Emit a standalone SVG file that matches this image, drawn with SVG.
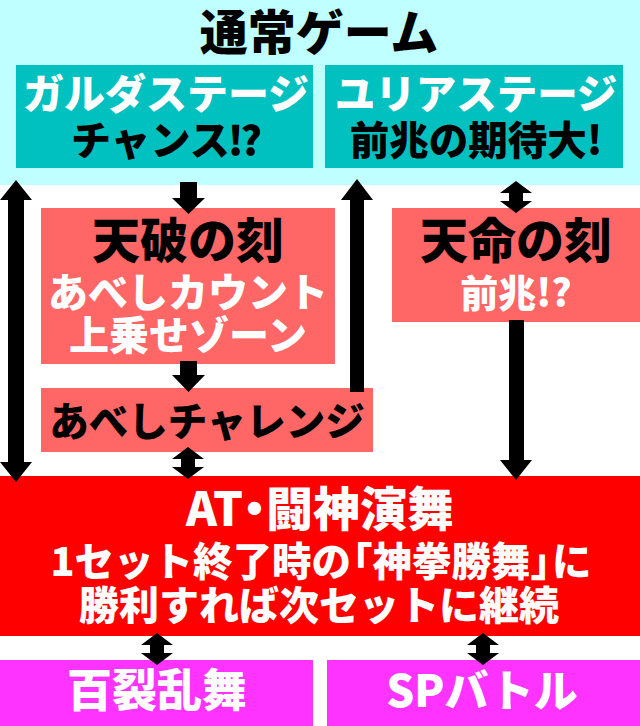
<svg xmlns="http://www.w3.org/2000/svg" width="640" height="726" viewBox="0 0 640 726">
<style>
text{font-family:"Noto Sans CJK JP","Noto Sans",sans-serif;font-weight:900;text-anchor:middle}
.k{fill:#000}.w{fill:#fff}
.arrow{fill:#000}
</style>
<rect width="640" height="726" fill="#fff"/>
<g id="normal-game"><rect x="0" y="0" width="640" height="185" fill="#c0ffff"/><text class="k" x="319" y="50" font-size="48">通常ゲーム</text></g>
<g id="garuda-stage"><rect x="16" y="65" width="297" height="103" fill="#00c0c0"/><text class="w" x="166" y="109" font-size="41">ガルダステージ</text><text class="k" x="165" y="155" font-size="40">チャンス<tspan dx="-2" letter-spacing="-3">!?</tspan></text></g>
<g id="yuria-stage"><rect x="325" y="65" width="298" height="103" fill="#00c0c0"/><text class="w" x="476" y="109" font-size="40.500">ユリアステージ</text><text class="k" x="476" y="155" font-size="39.500">前兆の期待大!</text></g>
<g id="tenpa"><rect x="41" y="208" width="294" height="156" fill="#ff6666"/><text class="k" x="188" y="258" font-size="48">天破の刻</text><text class="w" x="188" y="307" font-size="40">あべしカウント</text><text class="w" x="188" y="350" font-size="40">上乗せゾーン</text></g>
<g id="tenmei"><rect x="392" y="208" width="248" height="114" fill="#ff6666"/><text class="k" x="516" y="258" font-size="48">天命の刻</text><text class="w" x="516" y="307" font-size="38">前兆!?</text></g>
<g id="abeshi-challenge"><rect x="41" y="388" width="332" height="64" fill="#ff6666"/><text class="k" x="207" y="436" font-size="39.500">あべしチャレンジ</text></g>
<g id="at"><rect x="0" y="476" width="640" height="160" fill="#ff0000"/><text class="w" x="320" y="526" font-size="47">AT<tspan dx="-12">・</tspan><tspan dx="-12">闘神演舞</tspan></text><text class="w" x="321" y="576" font-size="39.500">1セット終了時の<tspan dx="-18">「</tspan>神拳勝舞」<tspan dx="-18">に</tspan></text><text class="w" x="319" y="620" font-size="40">勝利すれば次セットに継続</text></g>
<g id="hyakuretsu"><rect x="0" y="660" width="313" height="66" fill="#ff33ff"/><text class="w" x="157" y="707" font-size="45">百裂乱舞</text></g>
<g id="sp-battle"><rect x="327" y="660" width="313" height="66" fill="#ff33ff"/><text class="w" x="482" y="707" font-size="44">SPバトル</text></g>
<g id="connectors" class="arrow">
<path d="M16 180L32 200H24V462H32L16 482L0 462H8V200H0Z"/>
<path d="M180 182H197V198H205L188.500 214L172 198H180Z"/>
<path d="M357 179L373 200H364V392H350V200H341Z"/>
<path d="M516 181L532 193H523V201H532L516 213L500 201H509V193H500Z"/>
<path d="M509 320H524V460H532L516 480L500 460H509Z"/>
<path d="M180 361H197V375H205L188.500 392L172 375H180Z"/>
<path d="M188 447L204 459H195V467H204L188 479L172 467H181V459H172Z"/>
<path d="M157 633L173 645H164V653H173L157 665L141 653H150V645H141Z"/>
<path d="M483 633L499 645H490V653H499L483 665L467 653H476V645H467Z"/>
</g>
</svg>
